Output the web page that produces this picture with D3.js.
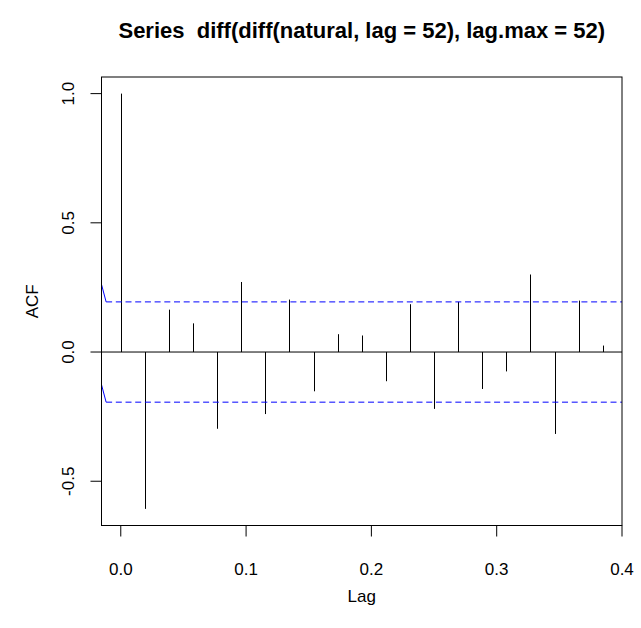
<!DOCTYPE html>
<html>
<head>
<meta charset="utf-8">
<script src="https://cdn.jsdelivr.net/npm/d3@7"></script>
<style>
	body { margin: 0; background: white; }
	text { font-family: "Liberation Sans", Arial, sans-serif; }
</style>
</head>
<body>
<div id="chart"></div>
<script>
// lag k / 52 for k = 0..20
var lagIndex = [0, 1, 2, 3, 4, 5, 6, 7, 8, 9, 10, 11, 12, 13, 14, 15, 16, 17, 18, 19, 20];
var acfValues = [1.0, -0.607, 0.164, 0.111, -0.297, 0.271, -0.240, 0.203, -0.152, 0.069, 0.064,
	-0.113, 0.185, -0.220, 0.194, -0.143, -0.075, 0.300, -0.317, 0.199, 0.025];
var ciLevel = 0.194;
var xTicks = [0, 0.1, 0.2, 0.3, 0.4];
var yTicks = [-0.5, 0, 0.5, 1.0];
var title = 'Series  diff(diff(natural, lag = 52), lag.max = 52)';

var width = 641, height = 628;
var box = {left: 101.5, right: 622, top: 77, bottom: 525.5};

var lags = lagIndex.map(function(k) { return k / 52; });

// R style 4% range extension
function extend(lo, hi) {
	var d = (hi - lo) * 0.04;
	return [lo - d, hi + d];
}

var x = d3.scaleLinear()
	.domain(extend(d3.min(lags), d3.max(lags)))
	.range([box.left, box.right]);

var y = d3.scaleLinear()
	.domain(extend(Math.min(d3.min(acfValues), -ciLevel), Math.max(d3.max(acfValues), ciLevel)))
	.range([box.bottom, box.top]);

var svg = d3.select('#chart').append('svg')
	.attr('width', width)
	.attr('height', height);

svg.append('defs').append('clipPath')
	.attr('id', 'plotclip')
	.append('rect')
	.attr('x', box.left)
	.attr('y', box.top)
	.attr('width', box.right - box.left)
	.attr('height', box.bottom - box.top);

var g = svg.append('g').attr('clip-path', 'url(#plotclip)');

// zero line
g.append('line')
	.attr('x1', box.left)
	.attr('x2', box.right)
	.attr('y1', y(0))
	.attr('y2', y(0))
	.attr('stroke', '#000')
	.attr('stroke-width', 1);

// acf spikes
g.selectAll('.spike').data(acfValues).enter().append('line')
	.attr('class', 'spike')
	.attr('x1', function(d, i) { return Math.round(x(lags[i])) + 0.5; })
	.attr('x2', function(d, i) { return Math.round(x(lags[i])) + 0.5; })
	.attr('y1', y(0))
	.attr('y2', function(d) { return y(d); })
	.attr('stroke', '#000')
	.attr('stroke-width', 1);

// confidence bounds
[ciLevel, -ciLevel].forEach(function(c) {
	g.append('line')
		.attr('x1', x(-0.0117))
		.attr('x2', box.right)
		.attr('y1', y(c))
		.attr('y2', y(c))
		.attr('stroke', 'blue')
		.attr('stroke-width', 1)
		.attr('stroke-dasharray', '6,3.7');
	g.append('line')
		.attr('x1', x(-0.0154))
		.attr('x2', x(-0.0117))
		.attr('y1', y(c + 0.068))
		.attr('y2', y(c))
		.attr('stroke', 'blue')
		.attr('stroke-width', 1);
});

// box
svg.append('rect')
	.attr('x', box.left)
	.attr('y', box.top)
	.attr('width', box.right - box.left)
	.attr('height', box.bottom - box.top)
	.attr('fill', 'none')
	.attr('stroke', '#000')
	.attr('stroke-width', 1);

// x axis
svg.selectAll('.xtick').data(xTicks).enter().append('line')
	.attr('x1', function(d) { return x(d); })
	.attr('x2', function(d) { return x(d); })
	.attr('y1', box.bottom)
	.attr('y2', box.bottom + 11)
	.attr('stroke', '#000');

svg.selectAll('.xlab').data(xTicks).enter().append('text')
	.attr('x', function(d) { return x(d); })
	.attr('y', 575)
	.attr('text-anchor', 'middle')
	.attr('font-size', '17px')
	.text(function(d) { return d.toFixed(1); });

// y axis
svg.selectAll('.ytick').data(yTicks).enter().append('line')
	.attr('x1', box.left)
	.attr('x2', box.left - 11)
	.attr('y1', function(d) { return y(d); })
	.attr('y2', function(d) { return y(d); })
	.attr('stroke', '#000');

svg.selectAll('.ylab').data(yTicks).enter().append('text')
	.attr('transform', function(d) { return 'translate(74,' + y(d) + ') rotate(-90)'; })
	.attr('text-anchor', 'middle')
	.attr('font-size', '17px')
	.text(function(d) { return d.toFixed(1); });

svg.append('text')
	.attr('x', (box.left + box.right) / 2)
	.attr('y', 602)
	.attr('text-anchor', 'middle')
	.attr('font-size', '17px')
	.text('Lag');

svg.append('text')
	.attr('transform', 'translate(38,' + (box.top + box.bottom) / 2 + ') rotate(-90)')
	.attr('text-anchor', 'middle')
	.attr('font-size', '17px')
	.text('ACF');

svg.append('text')
	.attr('x', (box.left + box.right) / 2)
	.attr('y', 38)
	.attr('text-anchor', 'middle')
	.attr('font-size', '22px')
	.attr('font-weight', 'bold')
	.style('white-space', 'pre')
	.text(title);
</script>
</body>
</html>
